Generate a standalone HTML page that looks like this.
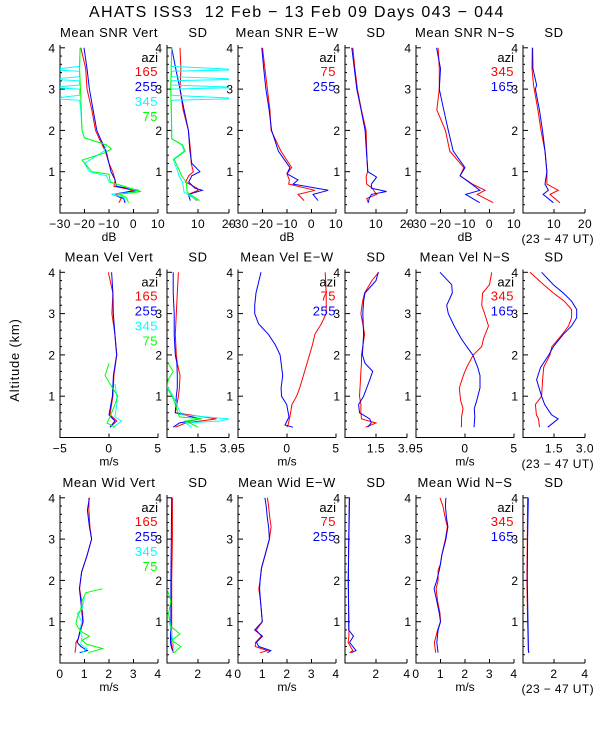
<!DOCTYPE html>
<html><head><meta charset="utf-8"><style>
body{margin:0;background:#fff}
svg{display:block}
text{font-family:"Liberation Sans",sans-serif}
</style></head><body>
<svg id="chart" width="600" height="750" viewBox="0 0 600 750" xmlns="http://www.w3.org/2000/svg">
<rect width="600" height="750" fill="#fff"/>
<text x="89" y="17" font-size="16" letter-spacing="1.3" fill="#000" style="white-space:pre" xml:space="preserve">AHATS ISS3  12 Feb − 13 Feb 09 Days 043 − 044</text>
<text transform="translate(19,360) rotate(-90)" text-anchor="middle" font-size="13" letter-spacing="0.8" fill="#000">Altitude (km)</text>
<g id="plots"></g>
</svg>
<script>
// ---------- Row 1: SNR ----------
const snrVAlt = [4.0,3.5,3.0,2.5,2.0,1.8,1.5,1.2,1.0,0.8,0.65,0.55,0.45,0.35,0.25];
const snrV165 = [-21.5,-19.5,-19,-17,-15.5,-14,-11.5,-10,-8.5,-7.5,-8,0,-7,-5,-6];
const snrV255 = [-20.2,-19,-18,-16.5,-15,-13.5,-11.2,-10,-9.2,-7.5,-7,2,-8.6,-4,-3.5];
const snrGAlt = [4.0,3.5,2.8,2.0,1.82,1.65,1.55,1.45,1.28,1.0,0.94,0.75,0.52,0.45,0.38,0.25];
const snrV75 = [-21.8,-22,-21.5,-21,-20,-11,-9,-12,-21,-17,-10,-9.5,3.1,-6,-3,-2];
const snrCAlt = [4.0,3.55,3.47,3.43,3.3,3.24,3.2,3.1,3.04,3.0,2.85,2.77,2.73,2.5,2.0,1.82,1.65,1.5,1.2,1.0,0.9,0.75,0.52,0.45,0.38,0.25];
const snrV345 = [-21.8,-22,-34,-22,-22,-34,-22,-22,-34,-22,-22,-34,-22,-21.5,-21,-20,-11,-12,-20,-18,-11,-10,2.5,-9,-4,-3];
const sdVAlt = [4.0,3.5,3.0,2.5,2.0,1.5,1.2,1.0,0.9,0.75,0.6,0.55,0.45,0.3];
const sdV165 = [4.2,4.5,4.2,5.2,6.9,7.6,7.8,8.5,7,6,9.7,10,6.9,9.7];
const sdV255 = [1.5,2.8,4.2,5.5,6.9,7.4,8,10.6,8,7,9,11.4,6.9,7.5];
const sdGAlt = [4.0,3.0,2.0,1.8,1.65,1.5,1.3,1.0,0.9,0.75,0.5,0.3];
const sdV75 = [1.5,1.2,1.5,1.5,5,5.9,2.3,4.2,4.7,6.2,6.5,10.5];
const sdCAlt = [4.0,3.55,3.47,3.43,3.3,3.24,3.2,3.1,3.04,3.0,2.85,2.77,2.73,2.0,1.8,1.65,1.5,1.3,1.0,0.9,0.75,0.5,0.3];
const sdV345 = [1.5,1.4,24,1.5,1.4,24,1.4,1.3,24,1.3,1.3,24,1.4,1.5,1.5,4.8,5.5,2,3.5,3.8,5,5.5,10];
const snrEAlt = [4.0,3.5,3.0,2.5,2.0,1.5,1.1,0.95,0.8,0.7,0.55,0.45,0.3];
const snrE75 = [-20,-19,-18,-17,-16.5,-12.5,-8.1,-10,-9,-9.3,1.4,-5.5,-3];
const snrE255 = [-20.3,-19.5,-18.6,-17.3,-16.3,-13.5,-8.8,-10,-5.5,-7.5,6.8,0.6,2.7];
const sdEAlt = [4.0,3.5,3.0,2.5,2.0,1.5,1.0,0.87,0.7,0.6,0.52,0.45,0.35,0.25];
const sdE75 = [2.5,3.2,4,5.3,6.8,7,7.3,6.8,7,8.8,9.5,10.2,7,7.5];
const sdE255 = [2.2,3,3.8,5.2,6.5,6.9,7.4,10.2,8.5,8.5,13.4,8.5,7.8,7.5];
const snrNAlt = [4.0,3.5,3.0,2.5,2.0,1.5,1.1,0.9,0.7,0.55,0.45,0.25];
const snrN345 = [-21,-20.5,-20.5,-21.5,-18,-16.2,-10.5,-12,-7,-1.8,-5,1.5];
const snrN165 = [-21.6,-20,-20.5,-18.7,-16.8,-14.8,-10,-12,-7.3,-3.9,-9.7,-4];
const sdNAlt = [4.0,3.5,3.1,3.0,2.5,2.0,1.5,1.0,0.7,0.55,0.45,0.25];
const sdN345 = [3,2.9,3.4,3.6,4.8,5.8,7.1,7.7,7.7,11.4,8.7,11.9];
const sdN165 = [3.1,3.2,4.4,4,5.3,6.3,7.1,7.7,7.1,8.2,6.5,9.8];
// ---------- Row 2: velocity ----------
const velVAlt = [4.0,3.5,3.0,2.5,2.0,1.5,1.0,0.55,0.4,0.25];
const velV165 = [-0.07,0.4,0.3,0.6,0.8,0.5,0.4,0.1,0.8,0.1];
const velV255 = [0.27,0.4,0.44,0.6,0.78,0.45,0.35,0.0,0.6,0.1];
const velGAlt = [1.8,1.5,1.3,1.0,0.8,0.5,0.35,0.25];
const velV75 = [0.0,-0.4,0.1,0.9,0.6,0.1,-0.2,0.6];
const velCAlt = [1.3,1.0,0.8,0.5,0.4,0.25];
const velV345 = [0.6,0.8,0.8,0.6,1.3,0.4];
const vsdVAlt = [4.0,3.5,3.0,2.5,2.0,1.8,1.5,1.2,1.0,0.6,0.45,0.35,0.25];
const vsdV165 = [0.55,0.5,0.45,0.4,0.45,0.5,0.63,0.6,0.55,0.4,2.4,0.9,0.4];
const vsdV255 = [0.3,0.3,0.35,0.35,0.4,0.48,0.5,0.5,0.45,0.4,1.6,0.6,0.3];
const vsdGAlt = [1.8,1.6,1.4,1.2,1.0,0.8,0.5,0.45,0.4,0.25];
const vsdV75 = [0.06,0.3,0.06,0,0.25,0.4,0.6,1.7,0.9,1.5];
const vsdCAlt = [1.2,1.0,0.7,0.55,0.45,0.4,0.35,0.25];
const vsdV345 = [0.06,0.3,0.55,0.7,3.0,2.6,0.9,1.2];
const velEAlt = [4.0,3.5,3.2,3.0,2.75,2.5,2.25,2.0,1.5,1.2,1.0,0.8,0.5,0.3,0.25];
const velE75 = [3.9,4.0,4.0,4.0,3.5,2.85,2.6,2.3,1.67,1.3,0.98,0.5,0.3,0.1,0.0];
const velE255 = [-2.65,-3.16,-3.3,-3.3,-2.9,-1.9,-1.2,-0.7,-0.44,-0.6,-0.56,-0.03,0.2,-0.2,0.6];
const vsdEAlt = [4.0,3.8,3.5,3.3,3.0,2.5,2.0,1.8,1.6,1.4,1.0,0.8,0.6,0.45,0.35,0.25];
const vsdE75 = [1.63,1.3,0.95,0.85,0.77,0.95,0.8,0.8,0.77,0.75,0.7,0.77,0.77,0.8,1.5,1.0];
const vsdE255 = [1.61,1.5,0.97,0.9,0.86,0.9,0.84,0.97,1.34,1.2,0.9,0.66,0.7,1.2,1.27,1.1];
const velNAlt = [4.0,3.7,3.5,3.2,3.0,2.7,2.4,2.2,2.0,1.7,1.5,1.2,0.9,0.7,0.5,0.25];
const velN345 = [2.72,2.5,1.8,1.7,2.0,2.4,1.9,1.7,0.85,0.17,-0.17,-0.58,-0.45,-0.2,-0.35,-0.37];
const velN165 = [-2.55,-1.36,-1.3,-1.87,-1.7,-1.1,-0.4,0.17,0.8,1.3,1.53,1.53,1.2,0.95,1.0,0.92];
const vsdNAlt = [4.0,3.7,3.5,3.3,3.1,2.9,2.7,2.5,2.2,2.0,1.7,1.4,1.0,0.8,0.55,0.45,0.25];
const vsdN345 = [0.34,1.0,1.47,2.0,2.35,2.35,2.2,1.9,1.4,1.3,1.0,0.95,0.9,0.6,0.65,0.75,0.8];
const vsdN165 = [0.9,1.47,1.95,2.35,2.6,2.6,2.35,1.95,1.47,1.25,0.85,0.66,0.9,1.05,1.38,1.7,1.2];
// ---------- Row 3: spectral width ----------
const widVAlt = [4.0,3.7,3.3,3.0,2.6,2.2,1.8,1.5,1.2,1.0,0.8,0.6,0.5,0.4,0.3,0.25];
const widV165 = [1.18,1.18,1.22,1.29,1.1,0.88,0.8,0.88,0.92,0.95,0.85,0.75,0.65,0.65,0.62,0.62];
const widV255 = [1.2,1.12,1.2,1.29,1.1,0.88,0.79,0.85,0.9,0.93,0.82,0.75,0.7,0.85,1.12,0.8];
const widGAlt = [1.8,1.7,1.5,1.3,1.1,0.95,0.85,0.75,0.65,0.55,0.45,0.35,0.25];
const widV75 = [1.74,1.05,0.9,0.85,0.7,0.65,0.75,0.9,1.2,0.9,1.1,1.74,1.15];
const widCAlt = [1.6,1.3,1.2,1.0,0.8,0.65,0.45,0.35,0.25];
const widV345 = [1.0,0.9,0.7,0.9,0.8,0.9,0.85,1.1,0.9];
const wsdVAlt = [4.0,3.0,2.0,1.0,0.5,0.35,0.25];
const wsdV165 = [0.35,0.35,0.3,0.3,0.3,0.35,0.4];
const wsdV255 = [0.3,0.28,0.25,0.25,0.22,0.3,0.45];
const wsdGAlt = [1.8,1.5,1.2,0.9,0.7,0.55,0.4,0.25];
const wsdV75 = [0,0.25,0.1,0.2,0.84,0.3,0.9,0.45];
const wsdCAlt = [1.2,1.0,0.7,0.5,0.35,0.25];
const wsdV345 = [0.1,0.2,0.3,0.4,0.45,0.4];
const widEAlt = [4.0,3.8,3.5,3.3,3.0,2.6,2.3,2.0,1.8,1.5,1.0,0.8,0.65,0.5,0.4,0.3,0.25];
const widE75 = [1.2,1.25,1.3,1.35,1.28,1.1,0.96,0.9,0.85,0.92,0.99,0.75,0.95,0.72,0.7,1.2,0.9];
const widE255 = [1.1,1.15,1.2,1.25,1.28,1.1,0.96,0.9,0.88,0.92,0.99,0.68,1.0,0.75,0.85,1.34,1.2];
const wsdEAlt = [4.0,3.5,3.0,2.0,1.0,0.8,0.65,0.5,0.3,0.25];
const wsdE75 = [0.3,0.28,0.25,0.2,0.25,0.25,0.25,0.2,0.5,0.3];
const wsdE255 = [0.28,0.26,0.24,0.22,0.24,0.24,0.55,0.3,0.71,0.4];
const widNAlt = [4.0,3.8,3.5,3.3,3.0,2.6,2.4,2.25,2.0,1.8,1.5,1.2,1.0,0.8,0.5,0.25];
const widN345 = [0.98,1.1,1.2,1.28,1.2,1.05,1.0,0.9,0.9,0.82,0.88,0.98,1.0,0.88,0.75,0.8];
const widN165 = [1.22,1.2,1.25,1.3,1.22,1.05,1.0,0.95,0.85,0.74,0.85,0.95,1.0,0.9,0.85,0.9];
const wsdNAlt = [4.0,3.0,2.0,1.0,0.3,0.25];
const wsdN345 = [0.3,0.28,0.25,0.3,0.35,0.4];
const wsdN165 = [0.34,0.3,0.28,0.32,0.35,0.36];

const RED="#ff0000",BLUE="#0000ff",CYAN="#00ffff",GREEN="#00ff00";
const NS="http://www.w3.org/2000/svg";
const root=document.getElementById('plots');
const colLeft=[60,167,238,345,416,523], colW=[98,62,98,62,98,62];
const rowBottom=[213,437.5,663], KM=41.3, AX_H=168;
let clipN=0;
function mk(tag,attrs,parent){const e=document.createElementNS(NS,tag);for(const k in attrs)e.setAttribute(k,attrs[k]);(parent||root).appendChild(e);return e;}
function txt(s,x,y,size,anchor,fill,parent,ls){const t=mk('text',{x:x,y:y,'font-size':size,'text-anchor':anchor||'middle',fill:fill||'#000','letter-spacing':ls||0},parent);t.textContent=s;return t;}

function panel(name,row,col,xmin,xmax,ticks,tickLabels,title,series,legend,unit){
  const g=mk('g',{});
  
  
  const L=colLeft[col],W=colW[col],B=rowBottom[row];
  const xs=v=>L+(v-xmin)/(xmax-xmin)*W;
  const ys=a=>B-a*KM;
  const tt=txt(title,L+W/2,B-AX_H-8,13,'middle','#000',g,0.6);
  
  
  const ax=mk('path',{d:`M${L},${B-AX_H}V${B}H${L+W}`,stroke:'#000','stroke-width':1,fill:'none'},g);
  
  
  for(let a=0.2;a<=4.01;a+=0.2){
    const major=Math.abs(a-Math.round(a))<0.01;
    mk('line',{x1:L,x2:L+(major?5:2),y1:ys(a),y2:ys(a),stroke:'#000','stroke-width':1},g);
    if(major){const yl=txt(String(Math.round(a)),L-5,ys(a)+4.5,12,'end','#000',g);
      
      }
  }
  ticks.forEach((v,i)=>{
    mk('line',{x1:xs(v),x2:xs(v),y1:B,y2:B-4,stroke:'#000','stroke-width':1},g);
    if(tickLabels[i]!==''){const xl=txt(tickLabels[i],xs(v),B+15,12,'middle','#000',g,0.5);
      
      }
  });
  if(unit){const u=txt(unit,L+W/2,B+28,12,'middle','#000',g);
    
    }
  const cid='c'+(clipN++);
  const cp=mk('clipPath',{id:cid},g);
  mk('rect',{x:L,y:B-AX_H-2,width:W,height:AX_H+2},cp);
  series.forEach(s=>{
    const d=s.alt.map((a,i)=>(i?'L':'M')+xs(s.val[i]).toFixed(1)+','+ys(a).toFixed(1)).join('');
    const p=mk('path',{d:d,stroke:s.color,'stroke-width':1,fill:'none','clip-path':`url(#${cid})`},g);
    
    
  });
  if(legend){
    const lg=mk('g',{},g);
    
    
    const top=B-AX_H;
    txt('azi',L+W,top+17,13,'end','#000',lg);
    series.forEach((s,i)=>{
      const e=txt(s.label,L+W,top+31+i*15,13,'end',s.color,lg,0.5);
      
      
    });
  }
}
const snrT=[-30,-20,-10,0,10], snrL=['−30','−20','−10','0','10'];
const sdT=[0,10,20], sdL=['','10','20'];
const velT=[-5,0,5], velL=['−5','0','5'];
const vsdT=[0,1.5,3], vsdL=['','1.5','3.0'];
const widT=[0,1,2,3,4], widL=['0','1','2','3','4'];
const wsdT=[0,2,4], wsdL=['','2','4'];

panel('snr-vert-panel',0,0,-30,10,snrT,snrL,'Mean SNR Vert',[
 {alt:snrVAlt,val:snrV165,color:RED,label:'165'},{alt:snrVAlt,val:snrV255,color:BLUE,label:'255'},
 {alt:snrCAlt,val:snrV345,color:CYAN,label:'345'},{alt:snrGAlt,val:snrV75,color:GREEN,label:'75'}],true,'dB');
panel('snr-vert-sd-panel',0,1,0,20,sdT,sdL,'SD',[
 {alt:sdVAlt,val:sdV165,color:RED,label:'165'},{alt:sdVAlt,val:sdV255,color:BLUE,label:'255'},
 {alt:sdCAlt,val:sdV345,color:CYAN,label:'345'},{alt:sdGAlt,val:sdV75,color:GREEN,label:'75'}],false,'');
panel('snr-ew-panel',0,2,-30,10,snrT,snrL,'Mean SNR E−W',[
 {alt:snrEAlt,val:snrE75,color:RED,label:'75'},{alt:snrEAlt,val:snrE255,color:BLUE,label:'255'}],true,'dB');
panel('snr-ew-sd-panel',0,3,0,20,sdT,sdL,'SD',[
 {alt:sdEAlt,val:sdE75,color:RED,label:'75'},{alt:sdEAlt,val:sdE255,color:BLUE,label:'255'}],false,'');
panel('snr-ns-panel',0,4,-30,10,snrT,snrL,'Mean SNR N−S',[
 {alt:snrNAlt,val:snrN345,color:RED,label:'345'},{alt:snrNAlt,val:snrN165,color:BLUE,label:'165'}],true,'dB');
panel('snr-ns-sd-panel',0,5,0,20,sdT,sdL,'SD',[
 {alt:sdNAlt,val:sdN345,color:RED,label:'345'},{alt:sdNAlt,val:sdN165,color:BLUE,label:'165'}],false,'');

panel('vel-vert-panel',1,0,-5,5,velT,velL,'Mean Vel Vert',[
 {alt:velVAlt,val:velV165,color:RED,label:'165'},{alt:velVAlt,val:velV255,color:BLUE,label:'255'},
 {alt:velCAlt,val:velV345,color:CYAN,label:'345'},{alt:velGAlt,val:velV75,color:GREEN,label:'75'}],true,'m/s');
panel('vel-vert-sd-panel',1,1,0,3,vsdT,vsdL,'SD',[
 {alt:vsdVAlt,val:vsdV165,color:RED,label:'165'},{alt:vsdVAlt,val:vsdV255,color:BLUE,label:'255'},
 {alt:vsdCAlt,val:vsdV345,color:CYAN,label:'345'},{alt:vsdGAlt,val:vsdV75,color:GREEN,label:'75'}],false,'');
panel('vel-ew-panel',1,2,-5,5,velT,velL,'Mean Vel E−W',[
 {alt:velEAlt,val:velE75,color:RED,label:'75'},{alt:velEAlt,val:velE255,color:BLUE,label:'255'}],true,'m/s');
panel('vel-ew-sd-panel',1,3,0,3,vsdT,vsdL,'SD',[
 {alt:vsdEAlt,val:vsdE75,color:RED,label:'75'},{alt:vsdEAlt,val:vsdE255,color:BLUE,label:'255'}],false,'');
panel('vel-ns-panel',1,4,-5,5,velT,velL,'Mean Vel N−S',[
 {alt:velNAlt,val:velN345,color:RED,label:'345'},{alt:velNAlt,val:velN165,color:BLUE,label:'165'}],true,'m/s');
panel('vel-ns-sd-panel',1,5,0,3,vsdT,vsdL,'SD',[
 {alt:vsdNAlt,val:vsdN345,color:RED,label:'345'},{alt:vsdNAlt,val:vsdN165,color:BLUE,label:'165'}],false,'');

panel('wid-vert-panel',2,0,0,4,widT,widL,'Mean Wid Vert',[
 {alt:widVAlt,val:widV165,color:RED,label:'165'},{alt:widVAlt,val:widV255,color:BLUE,label:'255'},
 {alt:widCAlt,val:widV345,color:CYAN,label:'345'},{alt:widGAlt,val:widV75,color:GREEN,label:'75'}],true,'m/s');
panel('wid-vert-sd-panel',2,1,0,4,wsdT,wsdL,'SD',[
 {alt:wsdVAlt,val:wsdV165,color:RED,label:'165'},{alt:wsdVAlt,val:wsdV255,color:BLUE,label:'255'},
 {alt:wsdCAlt,val:wsdV345,color:CYAN,label:'345'},{alt:wsdGAlt,val:wsdV75,color:GREEN,label:'75'}],false,'');
panel('wid-ew-panel',2,2,0,4,widT,widL,'Mean Wid E−W',[
 {alt:widEAlt,val:widE75,color:RED,label:'75'},{alt:widEAlt,val:widE255,color:BLUE,label:'255'}],true,'m/s');
panel('wid-ew-sd-panel',2,3,0,4,wsdT,wsdL,'SD',[
 {alt:wsdEAlt,val:wsdE75,color:RED,label:'75'},{alt:wsdEAlt,val:wsdE255,color:BLUE,label:'255'}],false,'');
panel('wid-ns-panel',2,4,0,4,widT,widL,'Mean Wid N−S',[
 {alt:widNAlt,val:widN345,color:RED,label:'345'},{alt:widNAlt,val:widN165,color:BLUE,label:'165'}],true,'m/s');
panel('wid-ns-sd-panel',2,5,0,4,wsdT,wsdL,'SD',[
 {alt:wsdNAlt,val:wsdN345,color:RED,label:'345'},{alt:wsdNAlt,val:wsdN165,color:BLUE,label:'165'}],false,'');

[243,468,693].forEach(y=>{
  const t=txt('(23 − 47 UT)',594,y,12,'end','#000',root,0.4);
  
  
});
</script>
</body></html>
